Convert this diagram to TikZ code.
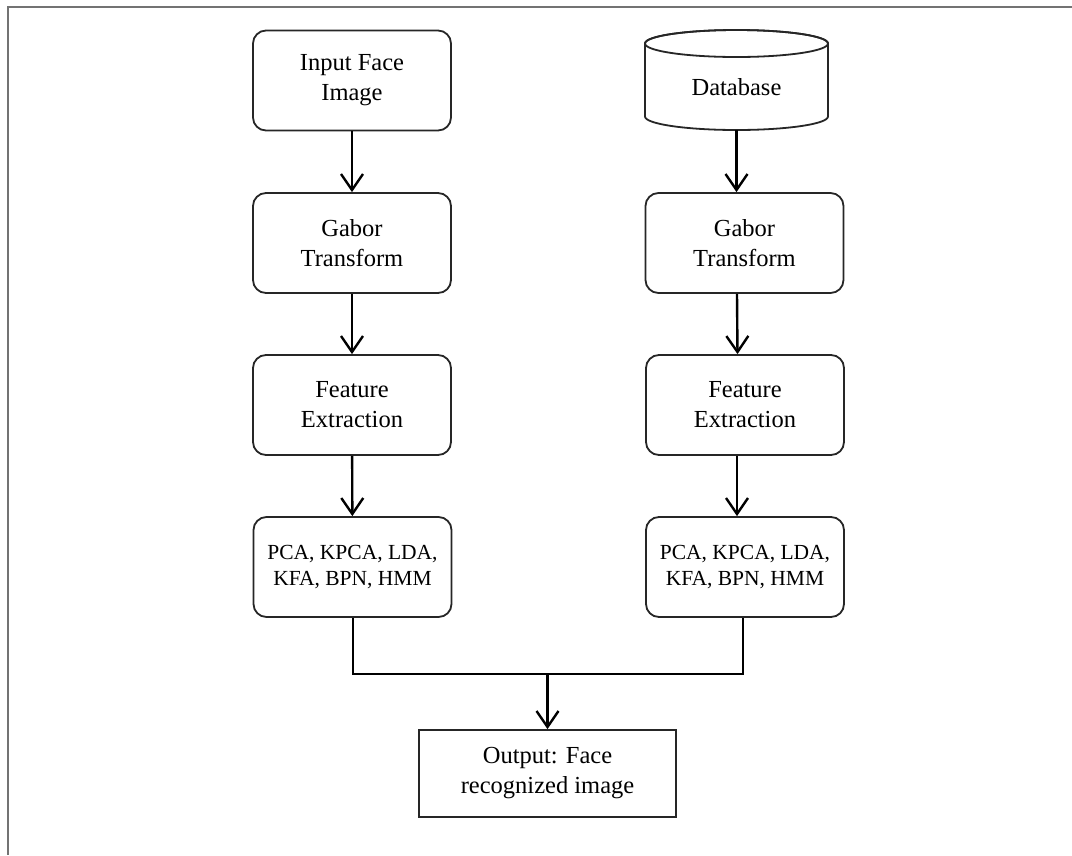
\documentclass[tikz,border=0pt]{standalone}
\usepackage{fontspec}
\setmainfont{Liberation Serif}
\usetikzlibrary{arrows.meta}
\begin{document}
\begin{tikzpicture}[x=1pt,y=-1pt,
  box/.style={draw=black!85, line width=1.8pt, rounded corners=13pt, align=center,
    minimum width=198pt, minimum height=100pt, inner sep=0pt,
    font=\fontsize{24.5}{30}\selectfont},
  algbox/.style={box, font=\fontsize{21.5}{26}\selectfont},
  outbox/.style={draw=black!85, line width=1.8pt, align=center, inner sep=0pt,
    minimum width=257pt, minimum height=87pt, font=\fontsize{24.5}{30}\selectfont},
  flow/.style={draw=black, line width=2.4pt,
    -{Straight Barb[length=16pt,width=22pt,line width=2.4pt]}},
  link/.style={draw=black, line width=2.6pt},
  drum/.style={draw=black!85, line width=1.8pt},
  frame/.style={draw=black!55, line width=2pt}]
\useasboundingbox (0,0) rectangle (1072,855);
% page frame
\draw[frame] (1072,7) -- (8,7) -- (8,855);

% left branch: query image
\node[box] (inL) at (352,80.5) {Input Face\\Image};
\node[box] (gL) at (352,243) {Gabor\\Transform};
\node[box] (fL) at (352,405) {Feature\\Extraction};
\node[algbox] (pL) at (352.5,567) {PCA, KPCA, LDA,\\KFA, BPN, HMM};

% right branch: database drum
\draw[drum, fill=white]
  (645,43.5) -- (645,116.5) arc[start angle=180, end angle=360, x radius=91.5, y radius=-13.5]
  -- (828,43.5) arc[start angle=0, end angle=180, x radius=91.5, y radius=-13.5] -- cycle;
\draw[drum] (736.5,43.5) ellipse[x radius=91.5, y radius=13.5];
\node[minimum width=183pt, minimum height=100pt, inner sep=0pt,
  font=\fontsize{24.5}{30}\selectfont] (db) at (736.5,80) {};
\node[font=\fontsize{24.5}{30}\selectfont, inner sep=0pt] (dbtext) at (736.5,87) {Database};
\node[box] (gR) at (744.5,243) {Gabor\\Transform};
\node[box] (fR) at (745,405) {Feature\\Extraction};
\node[algbox] (pR) at (745,567) {PCA, KPCA, LDA,\\KFA, BPN, HMM};

% output
\node[outbox] (out) at (547.5,773.5) {Output: Face\\recognized image};

% connectors
\draw[flow] (inL) -- (gL);
\draw[flow] (gL) -- (fL);
\draw[flow] (fL) -- (pL);
\draw[flow] (db.south) -- (db.south |- gR.north);
\draw[flow] ([xshift=-7.5pt]gR.south) -- ([xshift=-7.5pt]fR.north);
\draw[flow] ([xshift=-8pt]fR.south) -- ([xshift=-8pt]pR.north);

\coordinate (jL) at (353,674);
\coordinate (jR) at (743,674);
\coordinate (jM) at (547.5,674);
\draw[link] ([xshift=0.5pt]pL.south) -- (jL) -- (jR) -- ([xshift=-2pt]pR.south);
\draw[flow] (jM) -- (out.north);
\end{tikzpicture}
\end{document}
